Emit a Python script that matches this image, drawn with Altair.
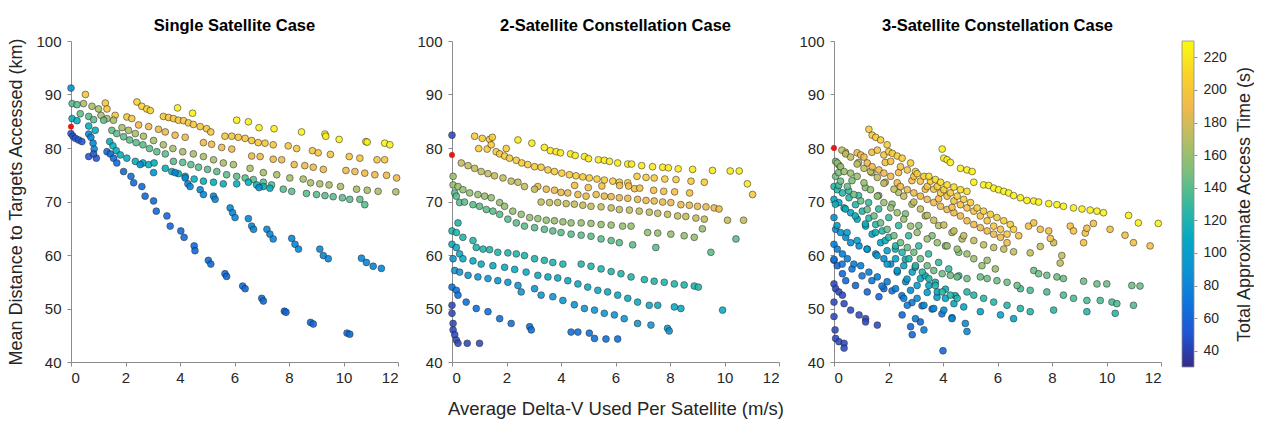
import altair as alt
import pandas as pd

PARULA = ["#352a87", "#2053d4", "#0d75dc", "#0c93d2", "#07a9c2", "#38b99e",
          "#7cbf7b", "#b7bd64", "#f1b94a", "#fad32a", "#f9fb0e"]
CB_RANGE = [30, 230]
CB_TICKS = [40, 60, 80, 100, 120, 140, 160, 180, 200, 220]
X_TICKS = [0, 2, 4, 6, 8, 10, 12]
Y_TICKS = [40, 50, 60, 70, 80, 90, 100]
TITLES = ["Single Satellite Case", "2-Satellite Constellation Case", "3-Satellite Constellation Case"]

# ---------------- Panel 1: single satellite ----------------
p1_yo_t = 210
p1_yo_x = [2.42, 2.60, 2.78, 2.91]
p1_yo_y = [88.6, 87.8, 87.3, 87.0]
p1_yel_t = 225
p1_yel_x = [3.91, 4.46, 6.08, 6.51, 6.90, 7.45, 8.46, 9.32, 9.35, 9.84, 10.82, 10.87, 11.51, 11.70]
p1_yel_y = [87.5, 86.5, 85.2, 84.9, 83.8, 83.6, 83.0, 82.6, 82.2, 81.6, 81.2, 81.1, 80.9, 80.6]
p1_or_t = 200
p1_or_x = [0.53, 1.26, 1.32, 1.62, 2.05, 2.23, 3.39, 3.58, 3.76, 3.94, 4.13, 4.31, 4.49, 4.74, 4.98, 5.13,
           5.65, 5.90, 6.14, 6.39, 6.63, 6.87, 7.12, 7.42, 7.97, 8.28, 8.86, 9.07, 9.52, 10.21, 10.60, 11.23, 11.51]
p1_or_y = [90.0, 88.4, 87.3, 86.1, 85.8, 85.5, 85.9, 85.7, 85.5, 85.2, 85.1, 84.7, 84.4, 84.0, 83.6, 83.0,
           82.2, 82.2, 82.0, 81.8, 81.4, 81.0, 80.9, 80.6, 80.4, 79.9, 79.5, 79.1, 78.8, 78.4, 78.1, 77.8, 77.8]
p1_ol_t = 190
p1_ol_x = [2.48, 2.85, 3.21, 3.46, 3.82, 4.19, 4.86, 5.16, 5.53, 5.90, 6.63, 6.94, 7.42, 7.73, 8.19, 8.58,
           8.89, 9.26, 10.09, 10.42, 10.78, 11.15, 11.58, 11.95]
p1_ol_y = [84.3, 84.0, 83.5, 83.0, 82.4, 82.0, 81.0, 80.7, 80.1, 79.8, 78.5, 78.4, 77.9, 77.8, 76.9, 76.7,
           76.4, 76.0, 75.8, 75.6, 75.3, 75.0, 74.9, 74.4]
p1_gr_t = 165
p1_gr_x = [0.46, 0.77, 1.01, 1.10, 1.32, 1.56, 1.87, 2.11, 2.36, 2.66, 3.03, 3.39, 3.74, 4.10, 4.49, 4.86,
           5.23, 5.59, 5.96, 6.57, 7.06, 7.55, 8.03, 8.52, 8.79, 9.13, 9.47, 9.89, 10.48, 10.87, 11.27, 11.92]
p1_gr_y = [88.3, 87.8, 87.3, 86.1, 85.5, 85.2, 83.8, 83.3, 82.7, 82.2, 81.4, 80.6, 79.9, 79.3, 78.9, 78.4,
           77.8, 77.2, 76.9, 76.2, 75.4, 75.0, 74.4, 74.2, 73.5, 73.3, 73.1, 72.8, 72.3, 72.1, 71.9, 71.8]
p1_te_t = 140
p1_te_x = [0.04, 0.22, 0.34, 0.65, 0.83, 1.20, 1.50, 1.68, 1.93, 2.15, 2.39, 2.64, 2.88, 3.15, 3.46, 3.76,
           4.10, 4.40, 4.68, 5.01, 5.35, 5.71, 6.08, 6.39, 6.69, 7.06, 7.36, 7.79, 8.10, 8.64, 9.01, 9.32,
           9.62, 9.96, 10.23, 10.60, 10.78]
p1_te_y = [88.3, 88.1, 86.4, 85.9, 85.3, 85.2, 83.3, 82.7, 82.1, 81.5, 81.0, 80.6, 79.9, 79.3, 78.9, 77.5,
           77.3, 76.9, 76.4, 76.0, 75.6, 75.0, 74.7, 74.4, 74.1, 73.6, 73.1, 72.3, 71.9, 71.5, 71.3, 71.1,
           70.9, 70.7, 70.4, 70.4, 69.4]
p1_cy_t = 115
p1_cy_x = [0.04, 0.22, 0.65, 0.89, 1.42, 1.54, 1.66, 1.81, 2.05, 2.36, 2.64, 2.85, 3.05, 3.46, 3.70, 3.94,
           4.19, 4.52, 4.86, 5.23, 5.59, 6.08, 6.51, 6.81, 7.06, 7.30]
p1_cy_y = [85.5, 85.1, 84.1, 83.3, 81.2, 80.4, 79.5, 78.7, 78.1, 77.5, 77.2, 76.9, 77.2, 76.2, 75.6, 75.2,
           74.7, 74.2, 73.8, 73.6, 73.3, 73.3, 73.6, 73.1, 72.8, 72.5]
p1_bl_t = 88
p1_bl_x = [0.0, 2.54, 3.03, 6.90]
p1_bl_y = [91.2, 76.9, 75.4, 72.6]
p1_b2_t = 80
p1_b2_x = [0.65, 0.73, 0.81, 0.85, 3.82, 4.19, 4.29, 4.37, 4.74, 4.86, 5.23, 5.29, 5.84, 5.93, 6.02, 6.51,
           6.63, 6.70, 7.19, 7.30, 7.42, 8.10, 8.22, 8.35, 9.13, 9.26, 9.44, 10.66, 10.84, 11.09, 11.39]
p1_b2_y = [82.6, 82.0, 80.9, 79.8, 75.4, 74.4, 73.3, 72.8, 72.2, 71.3, 71.0, 70.4, 68.8, 67.9, 67.0, 66.8,
           65.4, 64.8, 64.8, 63.9, 63.0, 63.1, 62.0, 61.1, 61.1, 59.9, 59.3, 59.4, 58.6, 57.9, 57.5]
p1_b3_t = 62
p1_b3_x = [1.32, 1.44, 1.56, 1.68, 1.93, 2.20, 2.30, 2.60, 2.72, 3.03, 3.13, 3.52, 3.64, 4.03, 4.15, 4.52,
           4.55, 5.04, 5.13, 5.65, 5.71, 6.30, 6.39, 7.00, 7.06, 7.83, 7.89, 8.79, 8.89, 10.13, 10.23]
p1_b3_y = [79.3, 78.9, 78.1, 77.2, 75.6, 74.7, 73.5, 72.8, 71.0, 70.1, 68.2, 67.3, 65.4, 64.5, 63.3, 61.7,
           60.8, 59.0, 58.3, 56.5, 56.0, 54.2, 53.7, 51.9, 51.4, 49.5, 49.3, 47.4, 47.1, 45.4, 45.2]
p1_dk_t = 50
p1_dk_x = [0.0, 0.07, 0.16, 0.28, 0.40, 0.65, 0.93, 0.83]
p1_dk_y = [82.7, 82.2, 81.8, 81.5, 81.2, 78.4, 78.1, 78.9]
p1_red_x = [0.0]
p1_red_y = [84.0]

# ---------------- Panel 2: 2-satellite constellation ----------------
p2_yel_t = 222
p2_yel_x = [2.42, 2.93, 3.39, 3.61, 3.82, 3.98, 4.35, 4.52, 4.86, 5.01, 5.37, 5.59, 5.78, 6.08, 6.45, 6.59,
            6.96, 7.36, 7.73, 7.94, 8.30, 8.83, 9.56, 10.21, 10.54, 10.84]
p2_yel_y = [81.5, 80.9, 80.1, 79.5, 79.3, 79.1, 78.9, 78.6, 78.4, 78.0, 77.8, 77.7, 77.5, 77.2, 77.0, 77.0,
            76.7, 76.5, 76.4, 76.3, 76.1, 76.0, 75.8, 75.7, 75.7, 73.3]
p2_o1_t = 204
p2_o1_x = [0.83, 1.11, 1.38, 1.48, 0.98, 1.29, 1.44, 1.62, 1.75, 1.93, 1.99, 2.11, 2.36, 2.56, 2.78, 3.03,
           3.27, 3.52, 3.76, 4.03, 4.31, 4.55, 4.80, 5.04, 5.32, 5.59, 5.90, 6.14, 6.45, 6.79, 7.12, 7.42,
           7.81, 8.22, 8.77, 9.26, 11.03]
p2_o1_y = [82.2, 81.8, 81.6, 82.0, 79.9, 79.8, 80.6, 79.3, 78.9, 78.5, 79.9, 78.1, 77.7, 77.2, 76.9, 76.5,
           76.4, 75.9, 75.6, 75.3, 75.0, 74.8, 74.6, 74.4, 74.2, 74.0, 73.8, 73.6, 73.5, 74.7, 74.5, 74.4,
           74.2, 74.1, 73.8, 73.6, 71.3]
p2_o3_t = 196
p2_o3_x = [4.5, 5.0, 5.5, 6.15, 6.48, 6.70, 6.89, 7.40, 7.77, 8.17, 8.72]
p2_o3_y = [73.0, 72.6, 72.9, 73.0, 72.9, 72.4, 72.5, 72.1, 71.9, 71.8, 71.6]
p2_o2_t = 188
p2_o2_x = [3.15, 3.46, 3.76, 4.00, 4.25, 4.62, 4.92, 5.29, 5.59, 5.84, 6.14, 6.45, 6.81, 7.12, 7.42, 7.73,
           8.03, 8.40, 8.71, 9.01, 9.32, 9.62, 9.80]
p2_o2_y = [72.8, 72.3, 72.1, 71.7, 71.6, 71.3, 71.0, 71.3, 71.0, 70.9, 70.7, 70.6, 70.4, 70.2, 70.1, 69.9,
           69.8, 69.4, 69.3, 69.1, 69.0, 68.8, 68.6]
p2_g1_t = 175
p2_g1_x = [0.34, 0.59, 0.83, 1.07, 1.32, 1.56, 1.87, 2.17, 2.42, 2.66, 3.03, 3.27, 3.58, 3.88, 4.19, 4.49,
           4.80, 5.10, 5.47, 5.84, 6.14, 6.51, 6.87, 7.24, 7.55, 7.91, 8.28, 8.58, 8.95, 9.26, 10.11, 10.70]
p2_g1_y = [77.2, 76.7, 76.2, 75.6, 75.2, 74.8, 74.4, 73.8, 73.6, 72.8, 72.3, 69.9, 69.8, 69.8, 69.6, 69.5,
           69.3, 69.1, 69.0, 68.8, 68.5, 68.4, 68.2, 68.0, 67.8, 67.6, 67.3, 67.2, 66.9, 66.7, 66.5, 66.5]
p2_g2_t = 158
p2_g2_x = [0.04, 0.04, 0.22, 0.40, 0.65, 0.95, 1.20, 1.44, 1.75, 1.93, 2.23, 2.54, 2.85, 3.15, 3.46, 3.76,
           4.07, 4.37, 4.74, 5.10, 5.47, 5.84, 6.26, 6.57, 7.18, 7.55, 8.03, 8.52, 8.89, 9.19]
p2_g2_y = [74.7, 73.1, 72.8, 72.2, 71.6, 71.3, 71.0, 70.7, 69.8, 69.1, 68.2, 67.6, 67.0, 66.8, 66.5, 66.4,
           66.2, 66.0, 66.0, 65.9, 65.7, 65.6, 65.4, 65.4, 64.2, 64.1, 63.9, 63.6, 63.3, 64.9]
p2_t1_t = 140
p2_t1_x = [0.10, 0.16, 0.28, 0.46, 0.77, 1.01, 1.26, 1.50, 1.75, 2.05, 2.36, 2.66, 3.03, 3.39, 3.70, 4.00,
           4.37, 4.74, 5.10, 5.47, 5.84, 6.14, 6.63, 7.48, 9.50, 10.42]
p2_t1_y = [71.6, 71.0, 69.8, 69.9, 69.4, 69.1, 68.5, 68.2, 67.6, 66.7, 66.0, 65.4, 65.1, 64.8, 64.5, 64.2,
           63.9, 63.7, 63.5, 63.0, 62.7, 62.3, 61.9, 61.4, 60.5, 63.0]
p2_c1_t = 124
p2_c1_x = [0.22, 0.0, 0.16, 0.40, 0.77, 0.89, 1.14, 1.38, 1.68, 2.05, 2.36, 2.66, 3.03, 3.39, 3.70, 4.07,
           4.74, 5.10, 5.47, 5.84, 6.20, 6.57, 7.06, 7.42, 7.79, 8.16, 8.52, 8.89, 9.04]
p2_c1_y = [66.0, 64.5, 64.2, 63.3, 62.7, 61.4, 61.1, 61.0, 60.5, 60.4, 60.2, 59.9, 59.3, 59.0, 58.6, 58.3,
           58.3, 57.9, 57.4, 56.9, 56.5, 55.9, 55.4, 55.1, 54.9, 54.6, 54.4, 54.2, 54.0]
p2_c2_t = 110
p2_c2_x = [0.0, 0.16, 0.28, 0.40, 0.77, 1.07, 1.50, 1.93, 2.30, 2.72, 3.15, 3.52, 3.88, 4.25, 4.62, 4.98,
           5.35, 5.71, 6.08, 6.45, 6.81, 7.24, 7.55, 8.16, 8.40, 9.93]
p2_c2_y = [62.0, 61.4, 60.2, 59.3, 58.9, 58.3, 58.0, 57.7, 57.3, 56.8, 56.2, 55.9, 55.7, 55.2, 54.6, 54.0,
           53.4, 53.1, 52.5, 51.9, 51.2, 50.6, 50.6, 50.3, 50.0, 49.7]
p2_b1_t = 90
p2_b1_x = [0.04, 0.10, 0.28, 0.59, 0.95, 1.32, 1.68, 2.05, 2.42, 2.54, 3.03, 3.27, 3.70, 4.07, 4.49, 4.86,
           5.23, 5.59, 5.96, 6.32, 6.81, 7.30, 7.91, 7.97]
p2_b1_y = [59.3, 57.1, 56.8, 56.2, 55.9, 55.6, 55.2, 54.9, 54.3, 53.1, 53.7, 52.5, 52.2, 51.5, 50.7, 50.0,
           49.7, 49.1, 48.8, 48.1, 47.2, 46.9, 46.3, 45.8]
p2_b2_t = 66
p2_b2_x = [0.0, 0.16, 0.22, 0.52, 0.89, 1.32, 1.75, 2.17, 2.85, 2.91, 4.37, 4.62, 5.04, 5.23, 5.65, 6.08]
p2_b2_y = [54.0, 53.4, 52.5, 51.2, 50.0, 49.4, 48.1, 47.2, 46.6, 46.0, 45.6, 45.6, 45.4, 44.4, 44.3, 44.3]
p2_b3_t = 45
p2_b3_x = [0.0, 0.0, 0.04, 0.04, 0.10, 0.16, 0.22, 0.56, 1.01, 0.0]
p2_b3_y = [50.6, 49.1, 47.2, 46.0, 45.1, 44.1, 43.5, 43.5, 43.5, 82.4]
p2_red_x = [0.0]
p2_red_y = [78.7]

# ---------------- Panel 3: 3-satellite constellation ----------------
p3_yel_t = 225
p3_yel_x = [3.97, 4.03, 4.15, 4.27, 4.64, 4.88, 5.07, 5.13, 5.49, 5.68, 5.86, 6.04, 6.23, 6.41, 6.59, 6.84,
            7.08, 7.33, 7.51, 7.88, 8.18, 8.42, 8.79, 9.10, 9.40, 9.65, 9.89, 10.81, 11.17, 11.90]
p3_yel_y = [79.8, 78.1, 77.8, 77.3, 76.2, 75.9, 75.6, 73.6, 73.1, 73.0, 72.5, 72.2, 71.9, 71.6, 71.1, 70.7,
            70.2, 70.1, 69.9, 69.6, 69.4, 69.1, 68.8, 68.6, 68.4, 68.2, 67.9, 67.4, 66.0, 65.9]
p3_y2_t = 214
p3_y2_x = [3.48, 3.72, 3.91, 4.15, 4.40, 4.64, 4.88]
p3_y2_y = [74.7, 74.1, 73.6, 73.1, 72.7, 72.2, 71.9]
p3_oa_t = 205
p3_oa_x = [1.28, 1.40, 1.53, 1.71, 1.95, 2.01, 2.14, 2.32, 2.50, 2.81, 2.99, 3.05, 3.30, 3.54, 3.79, 4.03,
           4.27, 4.52, 4.76, 5.01, 5.25, 5.49, 5.74, 5.98, 6.23, 6.47, 6.59]
p3_oa_y = [83.5, 82.4, 82.0, 81.5, 80.6, 79.3, 79.0, 78.5, 78.1, 77.2, 75.6, 75.2, 74.7, 73.8, 72.8, 72.2,
           71.6, 71.0, 70.4, 69.8, 68.8, 68.2, 67.6, 67.0, 66.4, 65.7, 64.8]
p3_oc_t = 198
p3_oc_x = [1.59, 1.83, 2.08, 2.44, 2.69, 2.93, 3.17, 3.42, 3.66, 3.91, 4.15, 4.40, 4.64, 4.88, 5.13, 5.37,
           5.62, 5.86, 6.11, 6.35]
p3_oc_y = [79.6, 78.7, 77.5, 76.5, 75.9, 74.7, 73.8, 72.8, 72.3, 71.6, 71.0, 70.1, 69.4, 68.8, 68.2, 67.3,
           66.4, 65.4, 64.8, 63.9]
p3_od_t = 194
p3_od_x = [1.39, 1.88, 2.37, 2.86, 3.35, 3.84, 4.33]
p3_od_y = [79.2, 77.3, 75.4, 73.9, 72.3, 70.5, 68.9]
p3_ob_t = 190
p3_ob_x = [0.85, 0.98, 1.10, 1.22, 1.40, 1.65, 1.83, 2.08, 2.32, 2.44, 2.69, 2.93, 3.17, 3.42, 3.66, 3.91,
           4.15, 4.40, 4.64, 4.88, 5.13, 5.37, 5.62, 5.86, 6.11, 6.35]
p3_ob_y = [79.1, 78.7, 78.3, 77.2, 76.5, 75.9, 75.3, 74.7, 73.5, 72.8, 72.2, 71.6, 71.0, 70.4, 69.8, 69.1,
           68.5, 67.9, 67.3, 66.4, 65.7, 65.1, 64.5, 63.9, 63.3, 62.3]
p3_os_t = 196
p3_os_x = [6.78, 7.14, 7.33, 7.57, 7.88, 7.94, 8.67, 8.79, 9.22, 9.28, 9.52, 9.16, 10.13, 10.68, 10.99, 11.60]
p3_os_y = [63.6, 65.4, 66.0, 64.8, 64.5, 63.1, 65.4, 64.5, 64.1, 65.0, 65.9, 62.3, 64.8, 63.7, 62.3, 61.7]
p3_ol_t = 175
p3_ol_x = [0.29, 0.43, 0.61, 0.85, 1.10, 1.34, 1.59, 1.83, 2.20, 2.56, 2.93, 3.17, 3.42, 3.66, 4.03, 4.40,
           4.76, 5.13, 5.49, 5.86, 6.23, 6.59, 7.20, 7.57, 8.06, 8.36, 8.30]
p3_ol_y = [79.6, 78.9, 78.3, 77.0, 76.2, 75.6, 74.5, 73.4, 72.3, 71.0, 69.9, 68.6, 67.4, 66.5, 65.6, 64.5,
           63.6, 62.7, 61.9, 61.4, 61.1, 60.6, 60.4, 61.6, 62.3, 59.9, 58.5]
p3_og_t = 168
p3_og_x = [0.42, 0.90, 1.39, 1.88, 2.37, 2.86, 3.35, 3.84, 4.33, 4.70]
p3_og_y = [79.2, 77.3, 75.4, 73.6, 71.7, 69.5, 67.3, 65.5, 64.2, 63.0]
p3_gr_t = 160
p3_gr_x = [0.12, 0.24, 0.37, 0.61, 0.85, 1.10, 1.34, 1.59, 1.83, 2.08, 2.32, 2.56, 2.81, 3.05, 3.42, 3.79,
           4.15, 4.52, 4.88, 5.13, 5.43, 5.62, 5.92]
p3_gr_y = [77.2, 76.5, 75.6, 75.3, 74.7, 73.5, 72.2, 71.0, 69.8, 68.8, 67.9, 66.7, 65.4, 64.2, 63.0, 62.3,
           61.7, 61.1, 60.2, 59.3, 58.0, 59.0, 57.4]
p3_g2_t = 150
p3_g2_x = [0.17, 0.66, 1.15, 1.64, 2.13, 2.62, 3.11, 3.60, 4.09, 4.58]
p3_g2_y = [75.4, 73.9, 72.6, 71.1, 69.5, 67.7, 65.5, 63.6, 61.7, 60.5]
p3_tg_t = 145
p3_tg_x = [0.06, 0.18, 0.06, 0.24, 0.49, 0.73, 0.98, 1.22, 1.47, 1.71, 1.95, 2.20, 2.44, 2.69, 2.93, 3.17,
           3.42, 3.66, 3.97, 4.27, 4.52, 4.88, 5.37, 5.62, 5.98, 6.35, 6.72, 7.33, 7.51, 7.81, 8.18, 8.42,
           9.16, 9.65, 10.01, 10.93, 11.23]
p3_tg_y = [77.5, 76.8, 74.7, 73.8, 72.8, 71.3, 70.1, 68.5, 67.3, 66.0, 64.8, 63.6, 62.3, 61.4, 60.5, 59.3,
           58.0, 57.1, 56.5, 56.2, 55.9, 55.6, 55.9, 55.6, 55.2, 54.9, 54.3, 57.1, 56.5, 56.2, 55.9, 55.6,
           55.1, 54.6, 54.6, 54.3, 54.2]
p3_tr_t = 135
p3_tr_x = [6.84, 7.20, 7.81, 8.42, 8.79, 9.28, 9.77, 10.20, 10.38, 10.99]
p3_tr_y = [53.7, 53.4, 53.1, 52.5, 51.9, 51.5, 51.5, 51.2, 50.9, 50.6]
p3_td_t = 130
p3_td_x = [0.17, 0.54, 0.90, 1.27, 1.64, 2.01, 2.37, 2.74, 3.11, 3.47, 3.84, 4.21, 4.58]
p3_td_y = [73.0, 72.0, 71.1, 69.8, 68.6, 67.0, 65.5, 63.6, 61.7, 60.2, 58.6, 57.4, 56.1]
p3_cy_t = 125
p3_cy_x = [0.0, 0.12, 0.31, 0.55, 0.79, 1.04, 1.28, 1.53, 1.77, 2.01, 2.26, 2.50, 2.75, 2.99, 3.24, 3.48,
           3.72, 3.97, 4.27, 4.52, 4.88, 5.13, 5.49, 5.86, 6.35, 6.84, 7.20, 8.06, 9.28, 10.32]
p3_cy_y = [72.8, 72.2, 71.6, 70.7, 69.4, 68.2, 66.9, 65.7, 64.5, 63.3, 61.7, 60.5, 59.3, 58.0, 56.8, 55.6,
           54.3, 53.1, 52.5, 51.9, 53.1, 52.5, 51.9, 51.2, 50.6, 50.0, 49.4, 49.7, 49.4, 49.1]
p3_c2_t = 118
p3_c2_x = [0.05, 0.42, 0.78, 1.15, 1.52, 1.88, 2.25, 2.62, 2.98, 3.35, 3.72, 4.09, 4.45]
p3_c2_y = [69.5, 68.6, 67.3, 65.8, 64.2, 62.7, 61.1, 59.2, 57.7, 56.1, 54.9, 53.6, 52.4]
p3_lb_t = 105
p3_lb_x = [0.0, 0.18, 0.37, 0.61, 0.85, 1.16, 1.40, 1.71, 1.95, 2.26, 2.56, 2.87, 3.17, 3.48, 3.79, 4.09,
           4.40, 4.76, 5.37, 6.11, 6.59]
p3_lb_y = [70.4, 69.8, 68.8, 67.9, 66.7, 65.4, 63.9, 62.3, 60.8, 59.3, 58.0, 56.8, 55.6, 54.3, 53.1, 51.9,
           50.9, 50.3, 49.4, 48.8, 48.1]
p3_l2_t = 98
p3_l2_x = [0.11, 0.48, 0.85, 1.21, 1.58, 1.95, 2.32, 2.68, 3.05, 3.42, 3.78]
p3_l2_y = [65.5, 64.2, 62.7, 61.1, 59.9, 58.3, 57.1, 55.5, 54.3, 53.0, 52.1]
p3_bl_t = 85
p3_bl_x = [0.0, 0.06, 0.24, 0.43, 0.61, 0.92, 1.22, 1.53, 1.83, 2.08, 2.32, 2.63, 2.81, 3.05, 3.30, 3.66,
           4.03, 4.33, 4.82, 4.88]
p3_bl_y = [67.0, 64.8, 64.2, 63.3, 62.3, 61.7, 61.1, 60.2, 59.3, 58.3, 56.8, 55.0, 53.4, 51.9, 50.6, 50.0,
           49.7, 48.1, 47.2, 45.7]
p3_b2_t = 75
p3_b2_x = [0.0, 0.12, 0.31, 0.49, 0.73, 0.98, 1.28, 1.59, 1.95, 2.26, 2.56, 2.69, 2.99, 3.30]
p3_b2_y = [62.0, 61.1, 60.2, 59.3, 58.3, 58.0, 56.8, 55.9, 55.0, 53.7, 51.9, 50.6, 48.1, 46.0]
p3_b4_t = 70
p3_b4_x = [0.0, 0.30, 0.66, 1.03, 1.39, 1.76, 2.13, 2.49, 2.86, 3.23, 3.60, 3.96, 4.33]
p3_b4_y = [59.2, 58.3, 57.4, 56.1, 55.2, 54.2, 53.3, 52.4, 51.1, 50.5, 49.9, 49.0, 48.3]
p3_bd_t = 60
p3_bd_x = [0.0, 0.12, 0.31, 0.43, 0.79, 1.22, 1.65, 1.83, 2.50, 2.81, 3.17, 2.87, 4.0]
p3_bd_y = [59.0, 58.0, 56.5, 55.2, 54.3, 53.1, 52.2, 53.7, 48.8, 46.6, 47.5, 45.1, 42.1]
p3_dk_t = 45
p3_dk_x = [0.0, 0.06, 0.18, 0.31, 0.37, 0.61, 0.92, 1.16, 1.16, 1.59, 0.0, 0.0, 0.04, 0.06, 0.18, 0.37, 0.37]
p3_dk_y = [54.6, 53.7, 53.1, 52.5, 50.9, 49.7, 48.8, 48.1, 47.5, 46.9, 51.2, 48.5, 46.0, 44.4, 43.8, 43.5, 42.6]
p3_red_x = [0.0]
p3_red_y = [80.0]

PANEL_STRANDS = [
    [(p1_yo_t, p1_yo_x, p1_yo_y), (p1_yel_t, p1_yel_x, p1_yel_y), (p1_or_t, p1_or_x, p1_or_y),
     (p1_ol_t, p1_ol_x, p1_ol_y), (p1_gr_t, p1_gr_x, p1_gr_y), (p1_te_t, p1_te_x, p1_te_y),
     (p1_cy_t, p1_cy_x, p1_cy_y), (p1_bl_t, p1_bl_x, p1_bl_y), (p1_b2_t, p1_b2_x, p1_b2_y),
     (p1_b3_t, p1_b3_x, p1_b3_y), (p1_dk_t, p1_dk_x, p1_dk_y)],
    [(p2_yel_t, p2_yel_x, p2_yel_y), (p2_o1_t, p2_o1_x, p2_o1_y), (p2_o3_t, p2_o3_x, p2_o3_y),
     (p2_o2_t, p2_o2_x, p2_o2_y), (p2_g1_t, p2_g1_x, p2_g1_y), (p2_g2_t, p2_g2_x, p2_g2_y),
     (p2_t1_t, p2_t1_x, p2_t1_y), (p2_c1_t, p2_c1_x, p2_c1_y), (p2_c2_t, p2_c2_x, p2_c2_y),
     (p2_b1_t, p2_b1_x, p2_b1_y), (p2_b2_t, p2_b2_x, p2_b2_y), (p2_b3_t, p2_b3_x, p2_b3_y)],
    [(p3_dk_t, p3_dk_x, p3_dk_y), (p3_bd_t, p3_bd_x, p3_bd_y), (p3_b4_t, p3_b4_x, p3_b4_y),
     (p3_b2_t, p3_b2_x, p3_b2_y), (p3_bl_t, p3_bl_x, p3_bl_y), (p3_l2_t, p3_l2_x, p3_l2_y),
     (p3_lb_t, p3_lb_x, p3_lb_y), (p3_c2_t, p3_c2_x, p3_c2_y), (p3_cy_t, p3_cy_x, p3_cy_y),
     (p3_td_t, p3_td_x, p3_td_y), (p3_tr_t, p3_tr_x, p3_tr_y), (p3_tg_t, p3_tg_x, p3_tg_y),
     (p3_g2_t, p3_g2_x, p3_g2_y), (p3_gr_t, p3_gr_x, p3_gr_y), (p3_og_t, p3_og_x, p3_og_y),
     (p3_ol_t, p3_ol_x, p3_ol_y), (p3_ob_t, p3_ob_x, p3_ob_y), (p3_od_t, p3_od_x, p3_od_y),
     (p3_os_t, p3_os_x, p3_os_y), (p3_oc_t, p3_oc_x, p3_oc_y), (p3_oa_t, p3_oa_x, p3_oa_y),
     (p3_y2_t, p3_y2_x, p3_y2_y), (p3_yel_t, p3_yel_x, p3_yel_y)],
]
RED_POINTS = [(p1_red_x, p1_red_y), (p2_red_x, p2_red_y), (p3_red_x, p3_red_y)]

FONT = "Liberation Sans"
W, H = 327, 321

color_scale = alt.Scale(domain=CB_RANGE, range=PARULA, nice=False)

panels = []
for i in range(3):
    rows = []
    for t, xs, ys in PANEL_STRANDS[i]:
        for xv, yv in zip(xs, ys):
            rows.append({"x": xv, "y": yv, "t": t})
    df = pd.DataFrame(rows)
    rdf = pd.DataFrame({"x": RED_POINTS[i][0], "y": RED_POINTS[i][1]})

    xaxis = alt.Axis(values=X_TICKS, title="Average Delta-V Used Per Satellite (m/s)" if i == 1 else None,
                     titleFontSize=18.5, titleFontWeight="normal", titlePadding=14)
    yaxis = alt.Axis(values=Y_TICKS, title="Mean Distance to Targets Accessed (km)" if i == 0 else None,
                     titleFontSize=18, titleFontWeight="normal", titlePadding=10)
    xs_ = alt.X("x:Q", scale=alt.Scale(domain=[0, 12], nice=False), axis=xaxis)
    ys_ = alt.Y("y:Q", scale=alt.Scale(domain=[40, 100], nice=False), axis=yaxis)

    pts = alt.Chart(df).mark_circle(size=46, stroke="#1e1e1e", strokeWidth=0.6, opacity=0.88).encode(
        x=xs_, y=ys_, color=alt.Color("t:Q", scale=color_scale, legend=None)
    )
    red = alt.Chart(rdf).mark_circle(size=34, color="#e0191c", opacity=1).encode(x=xs_, y=ys_)
    panel = alt.layer(pts, red).properties(
        width=W, height=H,
        title=alt.TitleParams(TITLES[i], fontSize=16.5, fontWeight="bold", font=FONT, color="#000000", offset=0),
    )
    panels.append(panel)

# colorbar: one rect spanning the colour-scale range, filled with the same parula stops
cb_df = pd.DataFrame({"lo": [CB_RANGE[0]], "hi": [CB_RANGE[1]]})
grad = alt.LinearGradient(
    gradient="linear",
    stops=[alt.GradientStop(offset=k / (len(PARULA) - 1), color=c) for k, c in enumerate(PARULA)],
    x1=0, x2=0, y1=1, y2=0,
)
colorbar = alt.Chart(cb_df).mark_rect(color=grad, stroke="#8c8c8c", strokeWidth=0.8).encode(
    x=alt.value(0), x2=alt.value(12),
    y=alt.Y("lo:Q", scale=alt.Scale(domain=CB_RANGE, nice=False),
            axis=alt.Axis(orient="right", values=CB_TICKS, title="Total Approximate Access Time (s)",
                          titleAngle=270, titleBaseline="top", titleFontSize=18, titleFontWeight="normal",
                          titlePadding=9, labelFontSize=14, domain=False, tickSize=3)),
    y2="hi:Q",
).properties(width=12, height=H + 5,
             title=alt.TitleParams(" ", fontSize=16.5, fontWeight="bold", font=FONT, offset=-2))

main = alt.hconcat(*panels, spacing=14)
chart = alt.hconcat(main, colorbar, spacing=18).properties(
    padding={"left": 7, "top": 17, "right": 0, "bottom": 5}
).configure_view(stroke=None).configure_axis(
    grid=False, domainColor="#8c8c8c", tickColor="#8c8c8c", tickSize=4, labelFontSize=15,
    labelColor="#262626", labelFont=FONT, titleFont=FONT, titleColor="#262626", labelPadding=4,
).configure_axisY(labelPadding=6)

chart.save("out.html", embed_options={"renderer": "svg", "actions": False})
